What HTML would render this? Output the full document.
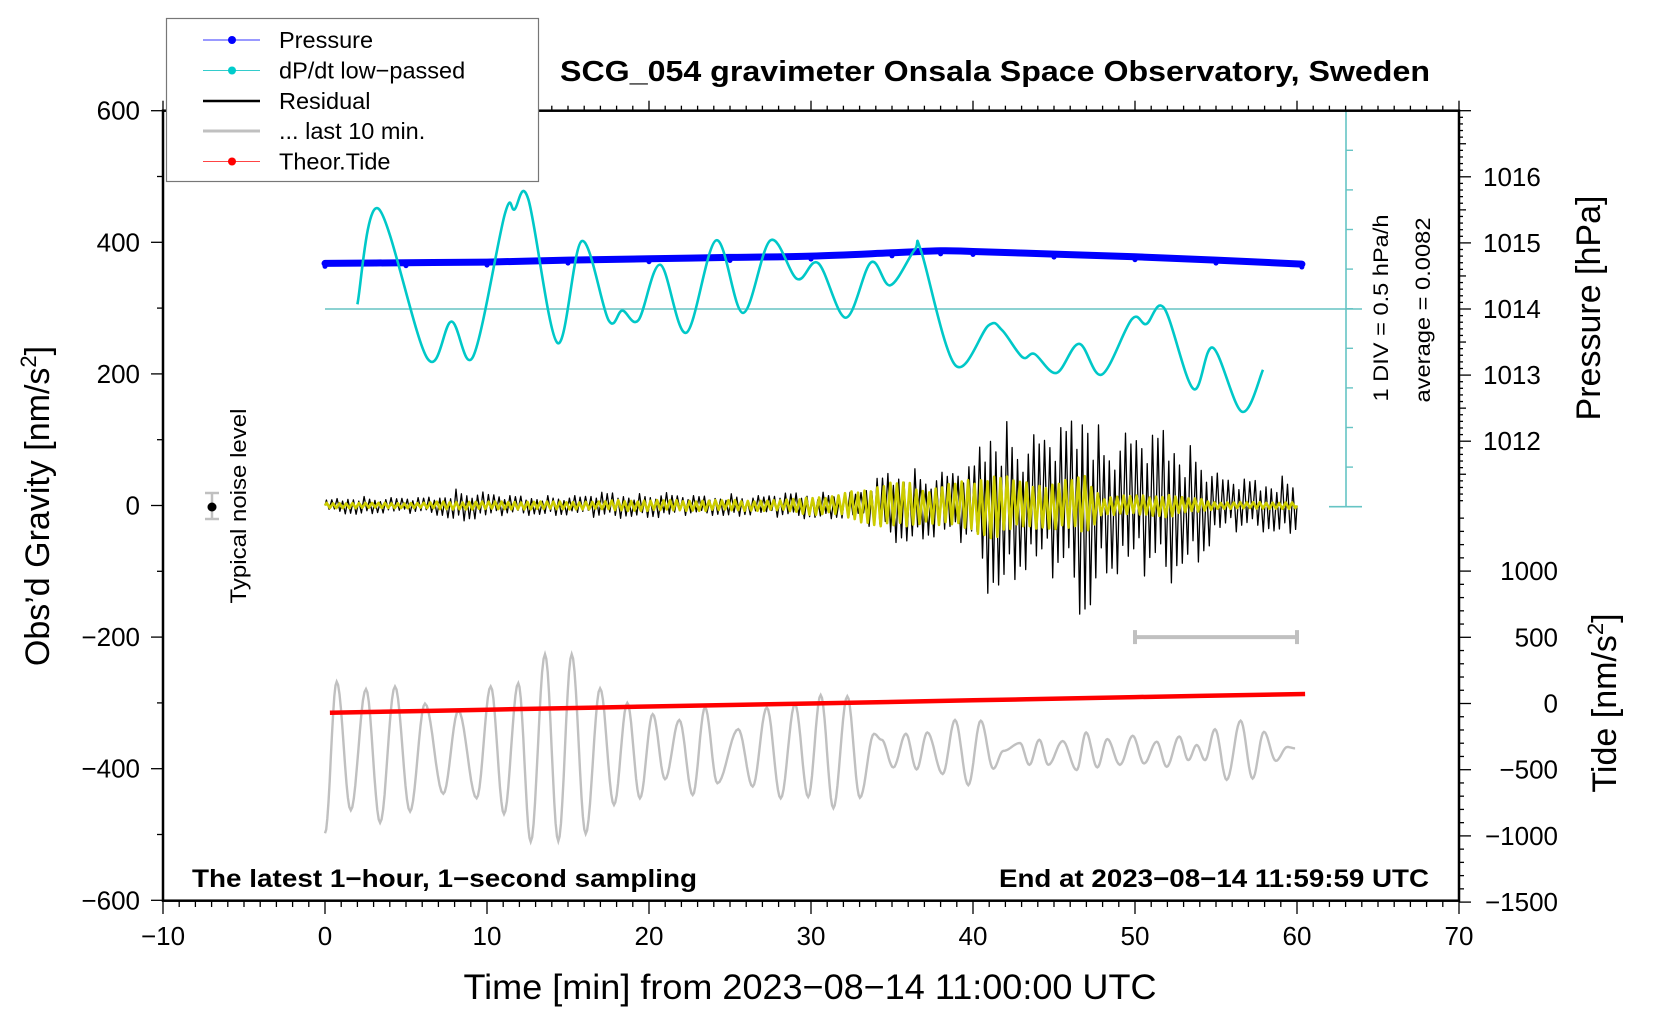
<!DOCTYPE html>
<html><head><meta charset="utf-8"><title>SCG_054 gravimeter</title>
<style>
html,body{margin:0;padding:0;background:#fff;}
svg{display:block;font-family:"Liberation Sans",Arial,sans-serif;}
</style></head>
<body>
<svg id="chart" width="1660" height="1020" viewBox="0 0 1660 1020" xmlns="http://www.w3.org/2000/svg">
<rect x="0" y="0" width="1660" height="1020" fill="#fff"/>
<g id="plot"></g>
<g id="axes"></g>
<text x="995" y="81" text-anchor="middle" font-size="29" font-weight="bold" textLength="870" lengthAdjust="spacingAndGlyphs">SCG_054 gravimeter Onsala Space Observatory, Sweden</text>
<text x="810" y="999" text-anchor="middle" font-size="35" textLength="693" lengthAdjust="spacingAndGlyphs">Time [min] from 2023−08−14 11:00:00 UTC</text>
<text transform="translate(49,506) rotate(-90)" text-anchor="middle" font-size="34">Obs’d Gravity [nm/s<tspan font-size="22" dy="-13">2</tspan><tspan dy="13">]</tspan></text>
<text transform="translate(1600,308) rotate(-90)" text-anchor="middle" font-size="34">Pressure [hPa]</text>
<text transform="translate(1616,703) rotate(-90)" text-anchor="middle" font-size="34">Tide [nm/s<tspan font-size="22" dy="-13">2</tspan><tspan dy="13">]</tspan></text>
<text x="192" y="887" font-size="25" font-weight="bold" textLength="505" lengthAdjust="spacingAndGlyphs">The latest 1−hour, 1−second sampling</text>
<text x="1429" y="887" text-anchor="end" font-size="25" font-weight="bold" textLength="430" lengthAdjust="spacingAndGlyphs">End at 2023−08−14 11:59:59 UTC</text>
<text transform="translate(1388,308) rotate(-90)" text-anchor="middle" font-size="21" textLength="187" lengthAdjust="spacingAndGlyphs">1 DIV = 0.5 hPa/h</text>
<text transform="translate(1430,310) rotate(-90)" text-anchor="middle" font-size="21" textLength="185" lengthAdjust="spacingAndGlyphs">average = 0.0082</text>
<g>
<line x1="212" y1="493" x2="212" y2="519" stroke="#c0c0c0" stroke-width="2.5"/>
<line x1="205" y1="493" x2="219" y2="493" stroke="#c0c0c0" stroke-width="2.5"/>
<line x1="205" y1="519" x2="219" y2="519" stroke="#c0c0c0" stroke-width="2.5"/>
<circle cx="212" cy="507" r="4.5" fill="#000"/>
</g>
<text transform="translate(246,506) rotate(-90)" text-anchor="middle" font-size="22" textLength="195" lengthAdjust="spacingAndGlyphs">Typical noise level</text>
<g>
<rect x="166.5" y="18.5" width="372" height="163" fill="#fff" stroke="#777" stroke-width="1.2"/>
<g><line x1="203" y1="40" x2="260" y2="40" stroke="#3333ff" stroke-width="1"/><circle cx="232" cy="40" r="4" fill="#0000ff"/><text x="279" y="48" font-size="23.5">Pressure</text></g>
<g><line x1="203" y1="70.5" x2="260" y2="70.5" stroke="#33cccc" stroke-width="1"/><circle cx="232" cy="70.5" r="4" fill="#00cccc"/><text x="279" y="78.5" font-size="23.5">dP/dt low−passed</text></g>
<g><line x1="203" y1="101" x2="260" y2="101" stroke="#000" stroke-width="2.5"/><text x="279" y="109" font-size="23.5">Residual</text></g>
<g><line x1="203" y1="131" x2="260" y2="131" stroke="#c0c0c0" stroke-width="3"/><text x="279" y="139" font-size="23.5">... last 10 min.</text></g>
<g><line x1="203" y1="161.5" x2="260" y2="161.5" stroke="#ff4444" stroke-width="1"/><circle cx="232" cy="161.5" r="4" fill="#ff0000"/><text x="279" y="169.5" font-size="23.5">Theor.Tide</text></g>
</g>
</svg>
<script>
// ---- data arrays ----
const pressTimes = [0,5,10,15,20,25,30,35,38,40,45,50,55,60.3];
const pressVals = [1014.69,1014.70,1014.71,1014.74,1014.76,1014.78,1014.80,1014.85,1014.88,1014.87,1014.83,1014.79,1014.74,1014.68];
const dpdtTimes = [2.0,3.3,6.3,7.8,9.15,11.1,11.7,12.55,14.35,15.85,17.5,18.35,19.35,20.7,22.3,24.15,25.8,27.5,29.15,30.45,32.15,33.7,34.9,36.4,36.8,38.9,40.95,41.8,43.05,43.8,45.15,46.55,47.95,49.8,50.7,51.8,53.6,54.8,56.6,57.9];
const dpdtVals = [0.06,1.27,-0.62,-0.16,-0.60,1.20,1.26,1.39,-0.43,0.86,-0.14,-0.02,-0.14,0.56,-0.30,0.87,-0.05,0.87,0.38,0.58,-0.11,0.59,0.30,0.75,0.73,-0.71,-0.21,-0.27,-0.61,-0.57,-0.81,-0.44,-0.83,-0.13,-0.19,0.01,-1.01,-0.49,-1.30,-0.77];
const resAmp = [8,12,15,12,12,12,12,15,25,22,20,15,15,15,15,15,15,20,20,18,18,20,15,15,15,18,15,15,18,20,20,20,20,20,40,55,60,50,50,55,60,140,130,100,110,110,130,190,100,110,110,105,125,95,85,50,40,40,40,45,40];
const lpAmp = [4,4,4,4,4,4,4,6,6,6,6,6,6,6,6,6,6,6,8,8,8,8,8,8,8,8,8,8,8,10,15,12,18,25,30,35,35,25,30,35,40,50,45,35,35,35,40,45,12,15,15,15,18,12,10,5,5,5,5,5,5];
const lastTimes = [0,0.72,1.59,2.53,3.40,4.32,5.25,6.17,7.30,8.23,9.36,10.23,11.05,11.93,12.70,13.58,14.40,15.23,16.09,16.98,17.84,18.66,19.44,20.23,20.99,21.87,22.70,23.46,24.22,25.51,26.40,27.27,28.13,29.01,29.83,30.60,31.38,32.24,33.02,33.89,34.36,35.08,35.86,36.52,37.18,38.13,38.89,39.71,40.48,41.25,41.87,42.90,43.48,44.09,44.65,45.54,46.40,46.98,47.67,48.29,49.07,49.86,50.56,51.34,51.96,52.73,53.29,53.81,54.32,54.94,55.66,56.52,57.26,57.96,58.70,59.40,59.88];
const lastVals = [-498,-268,-463,-279,-482,-275,-465,-301,-438,-312,-445,-275,-469,-270,-511,-226,-510,-226,-499,-278,-455,-300,-445,-317,-416,-326,-440,-307,-422,-340,-427,-307,-445,-302,-443,-288,-460,-290,-444,-347,-356,-398,-347,-401,-345,-408,-326,-425,-327,-400,-373,-361,-394,-356,-394,-358,-402,-345,-398,-355,-394,-350,-392,-359,-397,-351,-387,-364,-387,-340,-417,-327,-415,-344,-388,-367,-369];
const tideTimes = [0.3,10,20,30,40,50,60.5];
const tideVals = [-70,-47,-23,0,24,48,72];
const xTicks = [-10,0,10,20,30,40,50,60,70];
const gTicks = [600,400,200,0,-200,-400,-600];
const pTicks = [1016,1015,1014,1013,1012];
const tTicks = [1000,500,0,-500,-1000,-1500];

// ---- axis functions ----
const X = t => 325 + t*16.2;
const G = g => 505.5 - g*0.658;
const P = p => 309 - (p-1014)*66.1;
const D = d => 309 - d/0.5*39.5;
const T = v => 703.5 - v*0.1324;
const NS = 'http://www.w3.org/2000/svg';
const plot = document.getElementById('plot');
const axes = document.getElementById('axes');
function mk(tag, attrs, parent){const e=document.createElementNS(NS,tag);for(const k in attrs)e.setAttribute(k,attrs[k]);(parent||plot).appendChild(e);return e;}
function catmull(pts){let d='M'+pts[0][0].toFixed(1)+','+pts[0][1].toFixed(1);for(let i=0;i<pts.length-1;i++){const p0=pts[i-1]||pts[i],p1=pts[i],p2=pts[i+1],p3=pts[i+2]||p2;const c1=[p1[0]+(p2[0]-p0[0])/6,p1[1]+(p2[1]-p0[1])/6],c2=[p2[0]-(p3[0]-p1[0])/6,p2[1]-(p3[1]-p1[1])/6];d+='C'+c1[0].toFixed(1)+','+c1[1].toFixed(1)+' '+c2[0].toFixed(1)+','+c2[1].toFixed(1)+' '+p2[0].toFixed(1)+','+p2[1].toFixed(1);}return d;}
function cosPath(ts,vs,fx,fy){let d='';for(let i=0;i<ts.length-1;i++){for(let s=0;s<=10;s++){if(i>0&&s==0)continue;const u=s/10,w=(1-Math.cos(Math.PI*u))/2;const t=ts[i]+(ts[i+1]-ts[i])*u,v=vs[i]+(vs[i+1]-vs[i])*w;d+=(d?'L':'M')+fx(t).toFixed(1)+','+fy(v).toFixed(1);}}return d;}

let e;
e=mk('line',{x1:325,y1:309,x2:1362,y2:309,stroke:'#66c4c4','stroke-width':1.6});


e=mk('g',{});


mk('line',{x1:1346,y1:110.7,x2:1346,y2:506.7,stroke:'#66c4c4','stroke-width':1.6},e);
mk('line',{x1:1329,y1:110.7,x2:1362,y2:110.7,stroke:'#66c4c4','stroke-width':1.6},e);
mk('line',{x1:1329,y1:506.7,x2:1362,y2:506.7,stroke:'#66c4c4','stroke-width':1.6},e);
for(let i=1;i<10;i++){const y=110.7+i*39.6;mk('line',{x1:1346,y1:y,x2:1353,y2:y,stroke:'#66c4c4','stroke-width':1.4},e);}

// pressure
const pp=pressTimes.map((t,i)=>[X(t),P(pressVals[i])]);
e=mk('path',{d:catmull(pp),fill:'none',stroke:'#0000ff','stroke-width':7,'stroke-linecap':'round'});


for(let i=0;i<pressTimes.length;i++){const c=mk('circle',{cx:X(pressTimes[i]),cy:P(pressVals[i])+3,r:2.5,fill:'#0000ff'});

}

// dP/dt
const dp=dpdtTimes.map((t,i)=>[X(t),D(dpdtVals[i])]);
e=mk('path',{d:catmull(dp),fill:'none',stroke:'#00c8c8','stroke-width':2.6});



// residual and low-passed
const patR=[1,0.65,0.9,0.5,0.95,0.75,0.55,1,0.7,0.85,0.6,0.9,0.45,0.8,1,0.6,0.75];
const patY=[1,0.9,0.8,1,0.85,0.95,0.75,1,0.9];
function amp(arr,t){const i=Math.min(59,Math.floor(t));const f=t-i;return arr[i]*(1-f)+arr[i+1]*f;}
let dR='M'+X(0)+','+G(0), dY='M'+X(0)+','+G(0);
let k=0;
for(let m=0;m<60;m++){for(let j=0;j<6;j++){const t=m+(j+0.5)/6;const s=(k%2?-1:1);dR+='L'+X(t).toFixed(1)+','+G(s*amp(resAmp,t)*patR[k%patR.length]).toFixed(1);k++;}}
k=0;
for(let m=0;m<60;m++){for(let j=0;j<5;j++){const t=m+(j+0.5)/5;const s=(k%2?-1:1);dY+='L'+X(t).toFixed(1)+','+G(s*amp(lpAmp,t)*patY[k%patY.length]).toFixed(1);k++;}}
dR+='L'+X(60)+','+G(0); dY+='L'+X(60)+','+G(0);
e=mk('path',{d:dR,fill:'none',stroke:'#000','stroke-width':1.3,'stroke-linejoin':'round'});


e=mk('path',{d:dY,fill:'none',stroke:'#cccc00','stroke-width':2.6,'stroke-linejoin':'round'});



// last 10 min range bar
e=mk('g',{});


mk('line',{x1:X(50),y1:G(-200),x2:X(60),y2:G(-200),stroke:'#c0c0c0','stroke-width':4},e);
mk('line',{x1:X(50),y1:G(-200)-7,x2:X(50),y2:G(-200)+7,stroke:'#c0c0c0','stroke-width':4},e);
mk('line',{x1:X(60),y1:G(-200)-7,x2:X(60),y2:G(-200)+7,stroke:'#c0c0c0','stroke-width':4},e);

// last 10 min trace
e=mk('path',{d:cosPath(lastTimes,lastVals,X,G),fill:'none',stroke:'#c0c0c0','stroke-width':2.4});



// tide
const tp=tideTimes.map((t,i)=>[X(t),T(tideVals[i])]);
e=mk('path',{d:catmull(tp),fill:'none',stroke:'#ff0000','stroke-width':4.5});



// ---- axes ----
const A=axes;
e=mk('rect',{x:163,y:110.7,width:1296,height:790,fill:'none',stroke:'#000','stroke-width':2.5},A);


for(let t=-10;t<=70;t++){const x=X(t);const maj=(t%10===0);
mk('line',{x1:x,y1:901,x2:x,y2:901+(maj?13:6),stroke:'#000','stroke-width':1.3},A);
mk('line',{x1:x,y1:110.7,x2:x,y2:110.7-(maj?10:5),stroke:'#000','stroke-width':1.3},A);}
xTicks.forEach(v=>{const tx=mk('text',{x:X(v),y:945,'text-anchor':'middle','font-size':26},A);tx.textContent=(v<0?'−'+(-v):v);

});
for(let g=-600;g<=600;g+=100){const y=G(g);mk('line',{x1:163,y1:y,x2:163-(g%200===0?12:6),y2:y,stroke:'#000','stroke-width':1.3},A);}
gTicks.forEach(v=>{const tx=mk('text',{x:140,y:G(v)+9,'text-anchor':'end','font-size':26},A);tx.textContent=(v<0?'−'+(-v):v);

});
for(let i=0;i<=60;i++){const p=1011+i*0.1;const y=P(p);if(y<110||y>506)continue;const r=Math.round(p*10)%10;const len=(r===0?12:(r===5?7:4));mk('line',{x1:1459,y1:y,x2:1459+len,y2:y,stroke:'#000','stroke-width':1.3},A);}
pTicks.forEach(v=>{const tx=mk('text',{x:1483,y:P(v)+9,'font-size':26},A);tx.textContent=v;

});
for(let v=-1500;v<=1400;v+=100){const y=T(v);const len=(v%500===0?12:5);mk('line',{x1:1459,y1:y,x2:1459+len,y2:y,stroke:'#000','stroke-width':1.3},A);}
tTicks.forEach(v=>{const tx=mk('text',{x:1558,y:T(v)+9,'text-anchor':'end','font-size':26},A);tx.textContent=(v<0?'−'+(-v):v);

});
</script>
</body></html>
